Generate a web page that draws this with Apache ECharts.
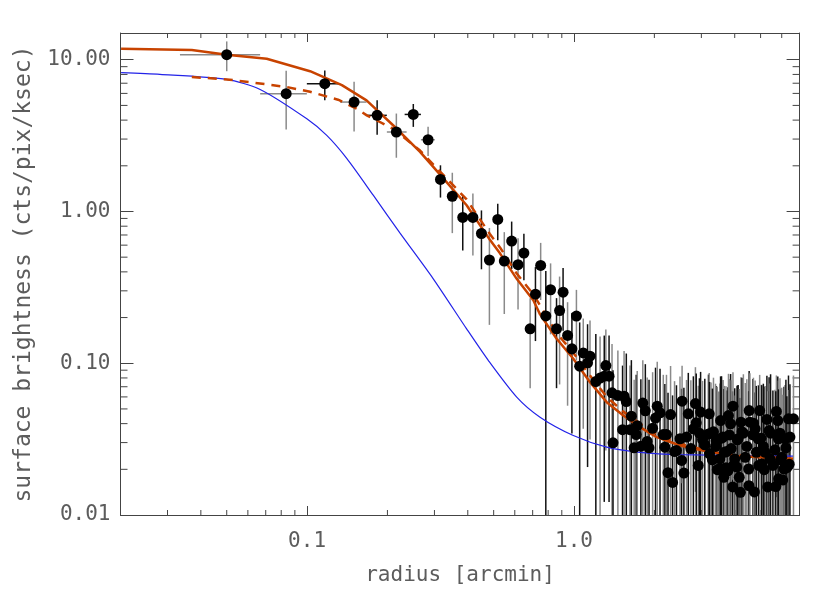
<!DOCTYPE html>
<html>
<head>
<meta charset="utf-8">
<script src="https://cdn.jsdelivr.net/npm/echarts@6/dist/echarts.min.js"></script>
<style>
html, body { margin: 0; padding: 0; background: #fff; }
#chart { width: 830px; height: 596px; }
</style>
</head>
<body>
<div id="chart"></div>
<script>
// measured surface brightness profile (radius in arcmin, cts/pix/ksec)
var radius = [
  0.050, 0.0835, 0.1165, 0.150, 0.183, 0.216, 0.250, 0.284,
  0.316, 0.350, 0.383, 0.418, 0.450, 0.482, 0.518, 0.548, 0.584, 0.617,
  0.649, 0.685, 0.717, 0.750, 0.784, 0.817, 0.860, 0.883, 0.910, 0.946,
  0.982, 1.021, 1.05, 1.083, 1.124, 1.148, 1.207, 1.252, 1.298, 1.316,
  1.353, 1.388, 1.40, 1.46, 1.52, 1.54, 1.57, 1.62, 1.64, 1.68,
  1.71, 1.725, 1.78, 1.81, 1.85, 1.88, 1.91, 1.97, 2.02, 2.05,
  2.10, 2.16, 2.19, 2.22, 2.25, 2.30, 2.34, 2.38, 2.42, 2.495,
  2.53, 2.54, 2.58, 2.64, 2.68, 2.74, 2.80, 2.85, 2.87, 2.92,
  2.98, 3.03, 3.19, 3.21, 3.22, 3.33, 3.41, 3.44, 3.50, 3.52,
  3.54, 3.62, 3.64, 3.66, 3.77, 3.79, 3.86, 3.88, 3.93, 3.94,
  4.00, 4.07, 4.12, 4.16, 4.20, 4.22, 4.26, 4.38, 4.51, 4.52,
  4.53, 4.56, 4.74, 4.77, 4.82, 4.90, 4.92, 4.96, 5.16, 5.20,
  5.28, 5.32, 5.38, 5.42, 5.56, 5.73, 5.80, 5.83, 5.84, 6.00,
  6.12, 6.17, 6.36, 6.40, 6.44, 6.64,
  2.95, 3.26, 3.57, 3.82, 4.09, 4.31, 4.68, 5.02, 5.45, 5.91,
  3.09, 3.39, 3.73, 4.44, 5.12, 5.66, 6.22, 5.94, 5.05, 3.97,
  3.30, 3.71, 6.27, 6.05, 5.70, 4.70
];
var bright = [
  10.8, 5.97, 6.95, 5.26, 4.30, 3.34, 4.36, 2.97,
  1.625, 1.26, 0.913, 0.913, 0.716, 0.479, 0.886, 0.471, 0.638, 0.446,
  0.532, 0.1685, 0.285, 0.441, 0.205, 0.305, 0.1685, 0.2225, 0.294, 0.1525,
  0.1245, 0.2044, 0.0957, 0.117, 0.1007, 0.1114, 0.0757, 0.0798, 0.0822, 0.0966,
  0.0822, 0.0638, 0.0299, 0.0612, 0.0365, 0.0606, 0.0559, 0.0365, 0.0448, 0.0277,
  0.0339, 0.0388, 0.0284, 0.0546, 0.0486, 0.0305, 0.0277, 0.0373, 0.0435, 0.0521,
  0.0471, 0.0339, 0.028, 0.0339, 0.019, 0.0459, 0.0164, 0.0262, 0.0266, 0.0318,
  0.0229, 0.0562, 0.0189, 0.0326, 0.0464, 0.0274, 0.037, 0.0542, 0.0405, 0.0212,
  0.0477, 0.0315, 0.0342, 0.0464, 0.0253, 0.0353, 0.0309, 0.0199, 0.0201, 0.0234,
  0.0419, 0.0326, 0.0177, 0.0259, 0.0195, 0.0452, 0.0399, 0.0274, 0.0153, 0.0521,
  0.0234, 0.0207, 0.0318, 0.0177, 0.0141, 0.0409, 0.0353, 0.024, 0.0201, 0.0156,
  0.0488, 0.0409, 0.0142, 0.037, 0.0259, 0.0318, 0.0212, 0.0488, 0.0199, 0.0259,
  0.0426, 0.0153, 0.036, 0.0234, 0.0212, 0.0481, 0.0419, 0.0318, 0.0173, 0.024,
  0.0201, 0.0318, 0.043, 0.0216, 0.0326, 0.043,
  0.0346, 0.0346, 0.0321, 0.0337, 0.0313, 0.0346, 0.0337, 0.0321, 0.0346, 0.0346,
  0.029, 0.0283, 0.0262, 0.0283, 0.0283, 0.0269, 0.0277, 0.0231, 0.0217, 0.0214,
  0.0231, 0.0205, 0.0205, 0.0170, 0.0154, 0.0403
];
var brightErr = [
  2.4, 2.5, 1.55, 1.9, 1.1, 1.08, 0.75, 0.65,
  0.39, 0.54, 0.36, 0.40, 0.30, 0.30, 0.24, 0.26, 0.22, 0.22,
  0.18, 0.10, 0.145, 0.18, 0.20, 0.15, 0.10, 0.15, 0.13, 0.10,
  0.09, 0.10, 0.09, 0.08, 0.08, 0.08, 0.08, 0.07, 0.07, 0.07,
  0.07, 0.07, 0.06, 0.06, 0.06, 0.06, 0.06, 0.06, 0.06, 0.05,
  0.05, 0.05, 0.05, 0.05, 0.05, 0.05, 0.05, 0.05, 0.05, 0.05,
  0.045, 0.05, 0.045, 0.05, 0.045, 0.05, 0.045, 0.05, 0.045, 0.05,
  0.045, 0.04, 0.05, 0.045, 0.04, 0.05, 0.045, 0.04, 0.045, 0.05,
  0.04, 0.045, 0.05, 0.04, 0.05, 0.045, 0.04, 0.05, 0.045, 0.05,
  0.04, 0.045, 0.05, 0.045, 0.05, 0.04, 0.045, 0.05, 0.05, 0.035,
  0.045, 0.05, 0.04, 0.05, 0.045, 0.04, 0.045, 0.05, 0.045, 0.05,
  0.04, 0.045, 0.05, 0.04, 0.045, 0.04, 0.05, 0.035, 0.05, 0.045,
  0.04, 0.05, 0.045, 0.05, 0.045, 0.035, 0.04, 0.045, 0.05, 0.045,
  0.05, 0.04, 0.04, 0.045, 0.04, 0.04,
  0.045, 0.04, 0.05, 0.045, 0.04, 0.05, 0.045, 0.04, 0.05, 0.045,
  0.05, 0.045, 0.04, 0.05, 0.045, 0.04, 0.05, 0.045, 0.05, 0.04,
  0.045, 0.05, 0.04, 0.045, 0.05, 0.04
];
// radial bin edges, drawn for the inner bins only
var binLo = [0.0334, 0.0667, 0.0998, 0.133, 0.167, 0.199, 0.232, 0.267];
var binHi = [0.0667, 0.0998, 0.133, 0.167, 0.199, 0.236, 0.267, 0.301];

// model curves
var fitR = [0.0201, 0.037, 0.050, 0.0706, 0.1026, 0.135, 0.167, 0.210, 0.265, 0.315, 0.396, 0.484, 0.528, 0.610, 0.704, 0.746, 0.861, 0.994, 1.148, 1.326, 1.53, 1.767, 2.04, 2.495, 3.04, 4.07, 6.61];
var fitS = [11.8, 11.6, 10.8, 10.15, 8.4, 6.8, 5.4, 3.7, 2.47, 1.75, 1.10, 0.65, 0.53, 0.36, 0.26, 0.21, 0.145, 0.107, 0.075, 0.0554, 0.0452, 0.0379, 0.0326, 0.0287, 0.0266, 0.0245, 0.0234];
var fit2R = [0.037, 0.050, 0.0612, 0.0839, 0.1026, 0.1306, 0.1535, 0.1674, 0.210, 0.265, 0.396, 0.484, 0.528, 0.610, 0.704, 0.861, 0.994, 1.148, 1.326, 1.53, 1.767, 2.04, 2.495, 3.04, 4.07, 6.61];
var fit2S = [7.69, 7.42, 7.11, 6.61, 6.15, 5.45, 4.75, 4.30, 3.51, 2.52, 1.2, 0.71, 0.58, 0.39, 0.285, 0.158, 0.117, 0.083, 0.060, 0.048, 0.040, 0.034, 0.0295, 0.027, 0.0247, 0.0235];
var psfR = [0.0201, 0.0281, 0.050, 0.0667, 0.0998, 0.1185, 0.141, 0.1772, 0.223, 0.297, 0.396, 0.48, 0.610, 0.746, 0.994, 1.326, 1.767, 2.495, 6.61];
var psfS = [8.21, 8.00, 7.42, 6.37, 4.08, 3.17, 2.23, 1.275, 0.72, 0.36, 0.1685, 0.103, 0.0598, 0.0441, 0.0334, 0.0280, 0.0259, 0.0250, 0.0244];

// minor tick positions
var xMinor = [0.03, 0.04, 0.05, 0.06, 0.07, 0.08, 0.09, 0.2, 0.3, 0.4, 0.5, 0.6, 0.7, 0.8, 0.9, 2, 3, 4, 5, 6];
var yMinor = [0.02, 0.03, 0.04, 0.05, 0.06, 0.07, 0.08, 0.09, 0.2, 0.3, 0.4, 0.5, 0.6, 0.7, 0.8, 0.9, 2, 3, 4, 5, 6, 7, 8, 9];

var X_MIN = 0.02, X_MAX = 7, Y_MIN = 0.01, Y_MAX = 15;
var ink = '#444';
var textInk = '#5c5c5c';
var font = 'DejaVu Sans Mono';

function isDecade(v) {
  var l = Math.log10(v);
  return Math.abs(l - Math.round(l)) < 1e-6;
}

function xAxisDef(pos, labels) {
  return {
    type: 'log', logBase: 10, min: X_MIN, max: X_MAX, position: pos,
    axisLine: { show: true, onZero: false, lineStyle: { color: ink, width: 1 } },
    axisTick: { show: true, inside: true, length: 9, lineStyle: { color: ink } },
    splitLine: { show: false },
    axisLabel: {
      show: labels, margin: 16, color: textInk, fontFamily: font, fontSize: 21,
      formatter: function (v) { return isDecade(v) ? v.toFixed(1) : ''; }
    },
    name: labels ? 'radius [arcmin]' : '', nameLocation: 'middle', nameGap: 50,
    nameTextStyle: { color: textInk, fontFamily: font, fontSize: 21 }
  };
}
function yAxisDef(pos, labels) {
  return {
    type: 'log', logBase: 10, min: Y_MIN, max: Y_MAX, position: pos,
    axisLine: { show: true, onZero: false, lineStyle: { color: ink, width: 1 } },
    axisTick: { show: true, inside: true, length: 13, lineStyle: { color: ink } },
    splitLine: { show: false },
    axisLabel: {
      show: labels, margin: 10, color: textInk, fontFamily: font, fontSize: 21,
      formatter: function (v) { return isDecade(v) ? v.toFixed(2) : ''; }
    },
    name: labels ? 'surface brightness (cts/pix/ksec)' : '', nameLocation: 'middle', nameGap: 85,
    nameTextStyle: { color: textInk, fontFamily: font, fontSize: 23 }
  };
}

var chart = echarts.init(document.getElementById('chart'));

var option = {
  animation: false,
  backgroundColor: '#fff',
  grid: { left: 120.5, right: 30.4, top: 33, bottom: 81 },
  xAxis: [xAxisDef('bottom', true), xAxisDef('top', false)],
  yAxis: [yAxisDef('left', true), yAxisDef('right', false)],
  series: [
    {
      // minor ticks on bottom and top
      type: 'custom', silent: true, z: 1,
      data: xMinor.map(function (v) { return [v, Y_MIN]; }),
      renderItem: function (params, api) {
        var cs = params.coordSys;
        var x = api.coord([api.value(0), Y_MIN])[0];
        var b = cs.y + cs.height;
        return { type: 'group', children: [
          { type: 'line', shape: { x1: x, y1: b, x2: x, y2: b - 5 }, style: { stroke: ink, lineWidth: 1 } },
          { type: 'line', shape: { x1: x, y1: cs.y, x2: x, y2: cs.y + 5 }, style: { stroke: ink, lineWidth: 1 } }
        ] };
      }
    },
    {
      // minor ticks on left and right
      type: 'custom', silent: true, z: 1,
      data: yMinor.map(function (v) { return [X_MIN, v]; }),
      renderItem: function (params, api) {
        var cs = params.coordSys;
        var y = api.coord([X_MIN, api.value(1)])[1];
        var r = cs.x + cs.width;
        return { type: 'group', children: [
          { type: 'line', shape: { x1: cs.x, y1: y, x2: cs.x + 7, y2: y }, style: { stroke: ink, lineWidth: 1 } },
          { type: 'line', shape: { x1: r, y1: y, x2: r - 7, y2: y }, style: { stroke: ink, lineWidth: 1 } }
        ] };
      }
    },
    {
      // error bars
      type: 'custom', silent: true, z: 2, clip: true,
      data: radius.map(function (r, i) { return [r, bright[i]]; }),
      renderItem: function (params, api) {
        var i = params.dataIndex;
        var s = bright[i], e = brightErr[i];
        var lo = Math.max(s - e, Y_MIN), hi = Math.min(s + e, Y_MAX);
        var p1 = api.coord([radius[i], hi]), p2 = api.coord([radius[i], lo]);
        var col = (i === 0 || i % 2 === 1) ? '#8a8a8a' : '#111';
        var kids = [{ type: 'line', shape: { x1: p1[0], y1: p1[1], x2: p2[0], y2: p2[1] }, style: { stroke: col, lineWidth: 1.5 } }];
        if (i < binLo.length) {
          var a = api.coord([binLo[i], s]), b = api.coord([binHi[i], s]);
          kids.push({ type: 'line', shape: { x1: a[0], y1: a[1], x2: b[0], y2: b[1] }, style: { stroke: col, lineWidth: 1.5 } });
        }
        return { type: 'group', children: kids };
      }
    },
    {
      name: 'psf', type: 'line', z: 3, showSymbol: false, smooth: 0.25,
      data: psfR.map(function (r, i) { return [r, psfS[i]]; }),
      lineStyle: { color: '#2323e8', width: 1.2 }
    },
    {
      name: 'model b', type: 'line', z: 3, showSymbol: false,
      data: fit2R.map(function (r, i) { return [r, fit2S[i]]; }),
      lineStyle: { color: '#c84300', width: 2.5, type: [9, 7] }
    },
    {
      name: 'model a', type: 'line', z: 3, showSymbol: false,
      data: fitR.map(function (r, i) { return [r, fitS[i]]; }),
      lineStyle: { color: '#c84300', width: 2.5 }
    },
    {
      name: 'data', type: 'scatter', z: 4, symbol: 'circle', symbolSize: 11,
      itemStyle: { color: '#000', opacity: 1 },
      data: radius.map(function (r, i) { return [r, bright[i]]; })
    }
  ]
};

chart.setOption(option);
window.addEventListener('resize', function () { chart.resize(); });
</script>
</body>
</html>
